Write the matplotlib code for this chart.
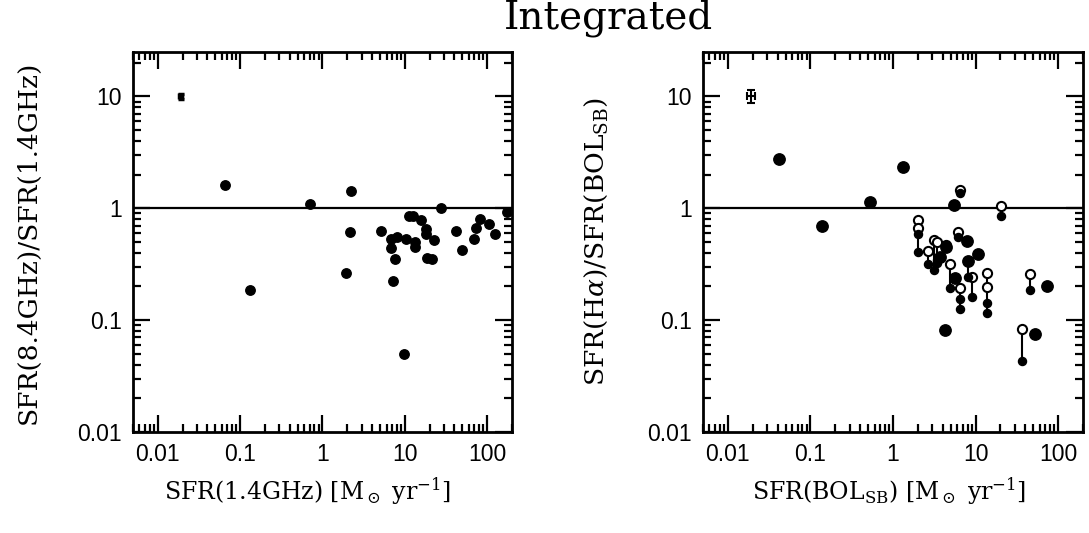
import numpy as np
import matplotlib
matplotlib.use("Agg")
import matplotlib.pyplot as plt
from matplotlib.ticker import LogLocator, NullFormatter, FixedLocator, FixedFormatter

plt.rcParams['font.family'] = ['Liberation Sans', 'DejaVu Sans']
plt.rcParams['mathtext.fontset'] = 'dejavuserif'

# --- data ---
# left panel: SFR(8.4GHz)/SFR(1.4GHz) vs SFR(1.4GHz)
radio_x = [0.065, 0.132, 0.70, 2.22, 2.16, 1.93, 5.13, 6.71, 7.93, 6.84, 7.64, 7.16,
           10.2, 9.73, 11.1, 12.5, 15.6, 13.3, 13.4, 17.9, 18.1, 18.4, 21.6, 22.6,
           27.5, 41.8, 49.0, 69, 73, 82, 105, 124, 175]
radio_y = [1.61, 0.186, 1.09, 1.42, 0.61, 0.265, 0.63, 0.527, 0.557, 0.44, 0.349, 0.226,
           0.527, 0.050, 0.853, 0.853, 0.78, 0.50, 0.454, 0.648, 0.585, 0.357, 0.354, 0.52,
           1.01, 0.627, 0.424, 0.535, 0.671, 0.80, 0.73, 0.585, 0.92]

# right panel: SFR(Halpha)/SFR(BOL_SB) vs SFR(BOL_SB)
big_x = [0.042, 0.137, 0.527, 1.32, 5.52, 4.22, 7.93, 10.7, 8.0, 4.42, 5.62, 3.70, 74.3, 52.2]
big_y = [2.75, 0.70, 1.15, 2.36, 1.07, 0.082, 0.513, 0.387, 0.34, 0.454, 0.239, 0.369, 0.201, 0.075]

small_x = [2.0, 2.0, 2.65, 3.10, 3.44, 3.37, 4.94, 6.05, 6.40, 6.46, 6.46, 8.0, 9.03,
           20.6, 13.6, 13.6, 45.4, 37.0]
small_y = [0.585, 0.409, 0.321, 0.281, 0.344, 0.326, 0.192, 0.55, 1.36, 0.156, 0.125, 0.244, 0.16,
           0.853, 0.141, 0.116, 0.186, 0.0433]

open_x = [2.0, 2.0, 2.65, 3.10, 3.44, 4.42, 4.94, 6.05, 6.40, 6.46, 9.03, 20.6, 13.6, 13.6, 45.4, 37.0]
open_y = [0.78, 0.662, 0.418, 0.52, 0.50, 0.47, 0.317, 0.618, 1.46, 0.195, 0.241, 1.05, 0.262, 0.199,
          0.258, 0.084]

seg_x = [2.0, 2.65, 3.10, 3.44, 4.94, 6.05, 6.40, 6.46, 8.0, 9.03, 20.6, 13.6, 45.4, 37.0]
seg_top = [0.78, 0.418, 0.52, 0.50, 0.317, 0.618, 1.46, 0.195, 0.34, 0.241, 1.05, 0.262, 0.258, 0.084]
seg_bot = [0.409, 0.321, 0.281, 0.344, 0.192, 0.55, 1.36, 0.125, 0.244, 0.16, 0.853, 0.116, 0.186, 0.0433]

# typical error bars (in dex) shown in the corner
err_x, err_y = 0.019, 10.0
err_left = (0.02, 0.02)     # (x dex, y dex)
err_right = (0.052, 0.057)

x_ticks = [0.01, 0.1, 1, 10, 100]
x_ticklabels = ['0.01', '0.1', '1', '10', '100']
y_ticks = [0.01, 0.1, 1, 10]
y_ticklabels = ['0.01', '0.1', '1', '10']


def dex_err(v, d):
    return [[v * (1 - 10 ** -d)], [v * (10 ** d - 1)]]


def style_axes(ax):
    ax.set_xscale('log')
    ax.set_yscale('log')
    ax.set_xlim(0.005, 200)
    ax.set_ylim(0.01, 25)
    ax.xaxis.set_major_locator(FixedLocator(x_ticks))
    ax.xaxis.set_major_formatter(FixedFormatter(x_ticklabels))
    ax.yaxis.set_major_locator(FixedLocator(y_ticks))
    ax.yaxis.set_major_formatter(FixedFormatter(y_ticklabels))
    ax.xaxis.set_minor_locator(LogLocator(base=10, subs=np.arange(2, 10), numticks=20))
    ax.yaxis.set_minor_locator(LogLocator(base=10, subs=np.arange(2, 10), numticks=20))
    ax.xaxis.set_minor_formatter(NullFormatter())
    ax.yaxis.set_minor_formatter(NullFormatter())
    ax.tick_params(which='both', direction='in', top=True, right=True, width=1.6)
    ax.tick_params(which='major', length=12, pad=8, labelsize=16.5)
    ax.tick_params(which='minor', length=6)
    for s in ax.spines.values():
        s.set_linewidth(2)
    ax.axhline(1.0, color='black', lw=1.6, zorder=1)


fig = plt.figure(figsize=(10.89, 5.33), dpi=100)
ax1 = fig.add_axes([0.1221, 0.1895, 0.348, 0.713])
ax2 = fig.add_axes([0.6455, 0.1895, 0.349, 0.713])

xlab_font = dict(family='DejaVu Serif', size=17)
ylab_font = dict(family='DejaVu Serif', size=19)

# --- left panel ---
style_axes(ax1)
ax1.plot(radio_x, radio_y, 'o', color='black', ms=6.8, zorder=3)
ax1.errorbar([err_x], [err_y], xerr=dex_err(err_x, err_left[0]), yerr=dex_err(err_y, err_left[1]),
             fmt='none', ecolor='black', elinewidth=2.5, capsize=2.5, capthick=2.5)
ax1.set_xlabel(r'SFR(1.4GHz) [M$_\odot$ yr$^{-1}$]', **xlab_font)
ax1.set_ylabel('SFR(8.4GHz)/SFR(1.4GHz)', **ylab_font)
ax1.xaxis.set_label_coords(0.46, -0.115)
ax1.yaxis.set_label_coords(-0.243, 0.5)

# --- right panel ---
style_axes(ax2)
ax2.vlines(seg_x, seg_bot, seg_top, color='black', lw=1.5, zorder=2)
ax2.plot(open_x, open_y, 'o', mfc='white', mec='black', mew=1.5, ms=6.6, zorder=3)
ax2.plot(small_x, small_y, 'o', color='black', ms=5.8, zorder=4)
ax2.plot(big_x, big_y, 'o', color='black', ms=8.2, zorder=4)
ax2.errorbar([err_x], [err_y], xerr=dex_err(err_x, err_right[0]), yerr=dex_err(err_y, err_right[1]),
             fmt='none', ecolor='black', elinewidth=1.5, capsize=3, capthick=1.5)
ax2.set_xlabel(r'SFR(BOL$_{\rm SB}$) [M$_\odot$ yr$^{-1}$]', **xlab_font)
ax2.set_ylabel(r'SFR(H$\alpha$)/SFR(BOL$_{\rm SB}$)', **ylab_font)
ax2.xaxis.set_label_coords(0.49, -0.115)
ax2.yaxis.set_label_coords(-0.245, 0.5)

fig.text(608 / 1089, 1 - 18 / 533, 'Integrated', ha='center', va='center',
         family='DejaVu Serif', size=28)

fig.savefig('out.png', dpi=100)
